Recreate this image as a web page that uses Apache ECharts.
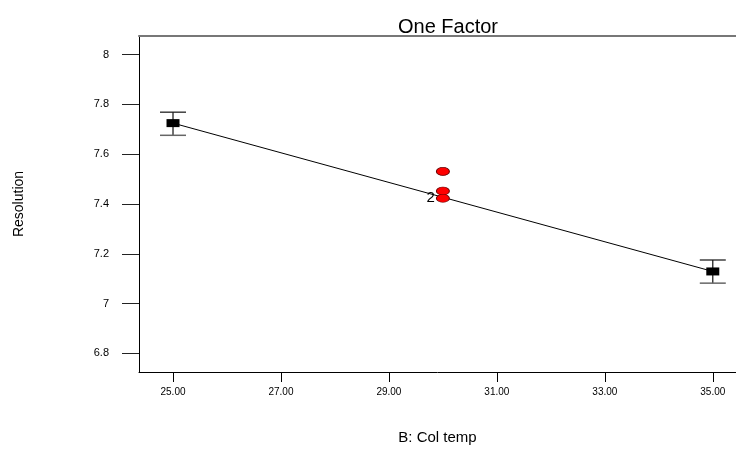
<!DOCTYPE html>
<html>
<head>
<meta charset="utf-8">
<script src="https://cdn.jsdelivr.net/npm/echarts@6/dist/echarts.min.js"></script>
<style>html,body{margin:0;padding:0;background:#fff}#c{width:736px;height:450px}</style>
</head>
<body>
<div id="c"></div>
<script>
// Factor levels (B: Col temp) and predicted means
const factorLevels = [25, 35];
const predicted = [7.725, 7.129];
const ciLow = [7.676, 7.082];
const ciHigh = [7.769, 7.175];
// Center-point design points
const centerX = [30, 30, 30];
const centerY = [7.531, 7.452, 7.423];
const centerLabels = ['', '', '2'];
// Tick labels
const xTicks = [25, 27, 29, 31, 33, 35];
const yTicks = [6.8, 7, 7.2, 7.4, 7.6, 7.8, 8];

const FONT = 'Liberation Sans Narrow, Liberation Sans, Arial, sans-serif';
const chart = echarts.init(document.getElementById('c'), null, {renderer: 'canvas'});

const linePts = factorLevels.map((x, i) => [x, predicted[i]]);
const errPts = factorLevels.map((x, i) => [x, ciLow[i], ciHigh[i]]);
const centerPts = centerX.map((x, i) => ({value: [x, centerY[i]], label: {show: centerLabels[i] !== '', formatter: centerLabels[i]}}));

chart.setOption({
  animation: false,
  backgroundColor: '#fff',
  title: {
    text: 'One Factor', left: 443, top: 12, textAlign: 'center',
    textStyle: {fontFamily: FONT, fontSize: 20, fontWeight: 'normal', color: '#000'}
  },
  grid: {left: 139, top: 36, right: 0, bottom: 73},
  xAxis: [{
    type: 'value', min: 24.37, max: 35.43,
    name: 'B: Col temp', nameLocation: 'middle', nameGap: 58,
    nameTextStyle: {fontFamily: FONT, fontSize: 15, color: '#000'},
    axisLine: {lineStyle: {color: '#000', width: 1}},
    axisTick: {show: true, length: 10, customValues: xTicks, lineStyle: {color: '#000'}},
    axisLabel: {customValues: xTicks, margin: 15, fontFamily: FONT, fontSize: 10, color: '#000',
      formatter: v => Number(v).toFixed(2)},
    splitLine: {show: false}
  }, {
    type: 'value', position: 'top', min: 24.37, max: 35.43,
    axisLine: {show: true, lineStyle: {color: '#777', width: 2}},
    axisTick: {show: false}, axisLabel: {show: false}, splitLine: {show: false}
  }],
  yAxis: {
    type: 'value', min: 6.725, max: 8.075,
    name: 'Resolution', nameLocation: 'middle', nameGap: 113, nameRotate: 90,
    nameTextStyle: {fontFamily: FONT, fontSize: 14, color: '#000'},
    axisLine: {show: true, lineStyle: {color: '#000', width: 1}},
    axisTick: {show: true, length: 17, customValues: yTicks, lineStyle: {color: '#222'}},
    axisLabel: {customValues: yTicks, margin: 30, fontFamily: FONT, fontSize: 11, color: '#000'},
    splitLine: {show: false}
  },
  series: [
    {
      type: 'line', data: linePts, symbol: 'none', xAxisIndex: 0,
      lineStyle: {color: '#000', width: 1}, z: 2
    },
    {
      type: 'custom', data: errPts, xAxisIndex: 0, z: 3,
      renderItem: function (params, api) {
        const x = api.value(0);
        const lo = api.coord([x, api.value(1)]);
        const hi = api.coord([x, api.value(2)]);
        const hw = 13;
        const st = {stroke: '#111', lineWidth: 1.2};
        return {type: 'group', children: [
          {type: 'line', shape: {x1: lo[0], y1: lo[1], x2: hi[0], y2: hi[1]}, style: st},
          {type: 'line', shape: {x1: hi[0] - hw, y1: hi[1], x2: hi[0] + hw, y2: hi[1]}, style: st},
          {type: 'line', shape: {x1: lo[0] - hw, y1: lo[1], x2: lo[0] + hw, y2: lo[1]}, style: {stroke: '#666', lineWidth: 1.5}}
        ]};
      }
    },
    {
      type: 'scatter', data: linePts, symbol: 'rect', symbolSize: [13, 8], xAxisIndex: 0,
      itemStyle: {color: '#000', opacity: 1}, z: 4
    },
    {
      type: 'scatter', data: centerPts, symbol: 'circle', symbolSize: [13, 8], xAxisIndex: 0,
      itemStyle: {color: '#ff0000', opacity: 1, borderColor: '#660000', borderWidth: 0.8}, z: 5,
      label: {position: 'left', distance: 1, fontFamily: 'Liberation Sans, Arial, sans-serif', fontSize: 15, color: '#000'}
    }
  ]
});
</script>
</body>
</html>
